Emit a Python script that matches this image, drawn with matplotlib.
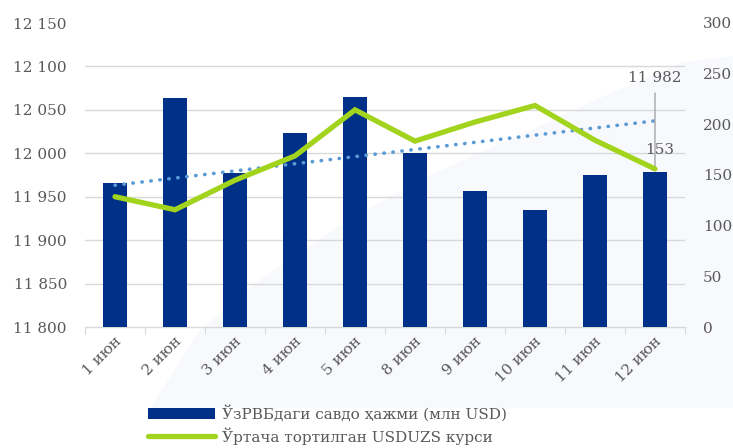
import matplotlib
matplotlib.use('Agg')

import matplotlib.pyplot as plt
import matplotlib.transforms as mtransforms
import numpy as np
from matplotlib.patches import Patch, Polygon
from matplotlib.lines import Line2D

# data
days = ['1 июн', '2 июн', '3 июн', '4 июн', '5 июн',
        '8 июн', '9 июн', '10 июн', '11 июн', '12 июн']
volume = [142, 226, 152, 191, 227, 172, 134, 115, 150, 153]          # mln USD, right axis
rate = [11950, 11935, 11969, 11997, 12050, 12014, 12036, 12055, 12015, 11982]  # left axis
vol_label = 'ЎзРВБдаги савдо ҳажми (млн USD)'
rate_label = 'Ўртача тортилган USDUZS курси'

grey = '#595959'
navy = '#003087'
green = '#A2D41D'
plt.rcParams['font.family'] = ['DejaVu Serif', 'DejaVu Sans']
plt.rcParams['font.size'] = 11

W, H = 733, 448
fig = plt.figure(figsize=(W / 100, H / 100), dpi=100)
fig.patch.set_facecolor('white')

# faint decorative swoosh in the background
bg = [(150, 408), (165, 385), (200, 330), (260, 280), (340, 225), (430, 175),
      (520, 135), (600, 98), (683, 62), (733, 56), (733, 408)]
fig.patches.append(Polygon([(x / W, 1 - y / H) for x, y in bg], closed=True,
                           transform=fig.transFigure, facecolor='#F8F9FD',
                           edgecolor='none', zorder=-1))

axb = fig.add_axes([85 / W, 1 - 327 / H, 600 / W, (327 - 23) / H])
axb.patch.set_visible(False)
x = np.arange(len(days))

axb.bar(x, volume, width=0.4, color=navy, zorder=3)
axb.set_ylim(0, 300)
axb.set_xlim(-0.5, len(days) - 0.5)
axb.set_yticks(np.arange(0, 301, 50))
# gridlines follow the left scale (8 lines)
axb.set_yticks(np.linspace(0, 300, 8), minor=True)
axb.grid(axis='y', which='minor', color='#D9D9D9', lw=1, zorder=0)
for s in ['top', 'left', 'right']:
    axb.spines[s].set_visible(False)
axb.spines['bottom'].set_color('#D9D9D9')
axb.spines['bottom'].set_linewidth(1)

# category boundary ticks, labels drawn by hand at 45 degrees
axb.set_xticks(np.arange(-0.5, len(days)), labels=[''] * (len(days) + 1))
axb.tick_params(axis='x', which='major', length=5, color='#D9D9D9')
lab_tr = mtransforms.offset_copy(axb.get_xaxis_transform(), fig=fig,
                                 x=4, y=-12, units='dots')
for xi, d in zip(x, days):
    axb.text(xi, 0, d, transform=lab_tr, rotation=45, rotation_mode='anchor',
             ha='right', va='center', color=grey, fontsize=11)

axl = axb.twinx()
axl.patch.set_visible(False)
axl.yaxis.tick_left()
axb.yaxis.tick_right()
axb.tick_params(axis='y', which='both', length=0, colors=grey, labelsize=11, pad=13)
axl.set_ylim(11800, 12150)
axl.set_yticks(np.arange(11800, 12151, 50))
axl.set_yticklabels([f'{v:,}'.replace(',', ' ') for v in range(11800, 12151, 50)])
axl.tick_params(axis='y', length=0, colors=grey, labelsize=11, pad=13)
for s in axl.spines.values():
    s.set_visible(False)

# linear trend of the rate
k, b = np.polyfit(x, rate, 1)
axl.plot(x, k * x + b, color='#5B9BD5', lw=2.6, linestyle=(0, (0.1, 2.4)),
         dash_capstyle='round', zorder=3)
axl.plot(x, rate, color=green, lw=3.8, solid_capstyle='round',
         solid_joinstyle='miter', zorder=4)

axl.annotate(f'{rate[-1]:,}'.replace(',', ' '), xy=(x[-1], rate[-1]),
             xytext=(x[-1], 12087), ha='center', va='center', color=grey,
             fontsize=11,
             arrowprops=dict(arrowstyle='-', color='#A6A6A6', lw=1,
                             shrinkA=4, shrinkB=0))
axb.text(x[-1] + 0.07, 175, str(volume[-1]), ha='center', va='center',
         color=grey, fontsize=11)

handles = [Patch(facecolor=navy, edgecolor='none'),
           Line2D([], [], color=green, lw=3.8, solid_capstyle='round')]
fig.legend(handles, [vol_label, rate_label], loc='upper left',
           bbox_to_anchor=(148 / W, 1 - 405 / H), frameon=False,
           handlelength=4.4, handleheight=0.65, handletextpad=0.45,
           labelspacing=0.35, borderpad=0, borderaxespad=0,
           labelcolor=grey, fontsize=11)

fig.savefig('out.png', dpi=100)
plt.close(fig)
